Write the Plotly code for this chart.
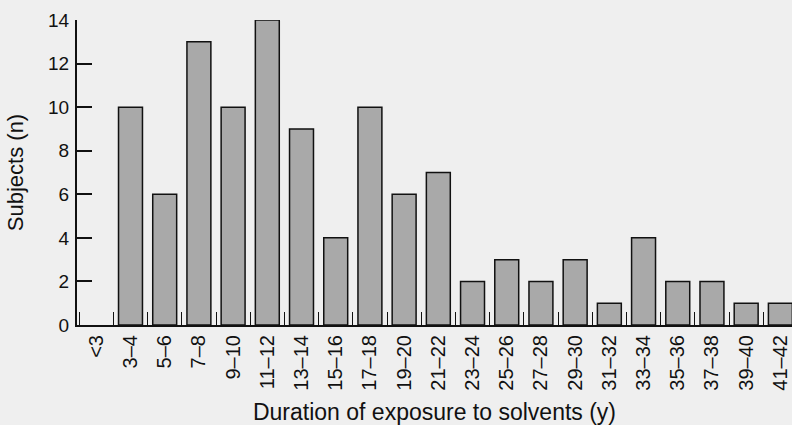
import plotly.graph_objects as go

categories = ["<3", "3–4", "5–6", "7–8", "9–10", "11–12", "13–14", "15–16", "17–18",
              "19–20", "21–22", "23–24", "25–26", "27–28", "29–30", "31–32", "33–34",
              "35–36", "37–38", "39–40", "41–42"]
subjects = [None, 10, 6, 13, 10, 14, 9, 4, 10, 6, 7, 2, 3, 2, 3, 1, 4, 2, 2, 1, 1]
y_ticks = [0, 2, 4, 6, 8, 10, 12, 14]

FONT = "Liberation Sans, Arial, sans-serif"
INK = "#111111"

fig = go.Figure(go.Bar(
    x=categories, y=subjects, width=0.7,
    marker=dict(color="#a9a9a9", line=dict(color=INK, width=1.5)),
))

fig.update_layout(
    width=792, height=425,
    margin=dict(l=77, r=0, t=20, b=100),
    paper_bgcolor="#efefef", plot_bgcolor="#efefef",
    showlegend=False,
    font=dict(family=FONT, size=16, color=INK),
)
fig.update_xaxes(
    type="category", range=[-0.564, 20.34], automargin=False,
    showgrid=False, zeroline=False,
    showline=True, linecolor=INK, linewidth=2,
    ticks="inside", tickson="boundaries", ticklen=13, tickwidth=1.2, tickcolor=INK,
    tickangle=-90, tickfont=dict(size=20, color=INK),
    title=dict(text="Duration of exposure to solvents (y)", font=dict(size=23, color=INK), standoff=30),
)
fig.update_yaxes(
    range=[0, 14], tickvals=y_ticks, automargin=False,
    showgrid=False, zeroline=False,
    showline=True, linecolor=INK, linewidth=2,
    ticks="inside", ticklen=15, tickwidth=1.5, tickcolor=INK,
    ticklabelstandoff=2, tickfont=dict(size=19, color=INK),
    title=dict(text="Subjects (n)", font=dict(size=22, color=INK), standoff=18),
)

fig.write_html("out.html", config={"displayModeBar": False},
               post_script="document.body.style.margin='0px';document.body.style.overflow='hidden';")
